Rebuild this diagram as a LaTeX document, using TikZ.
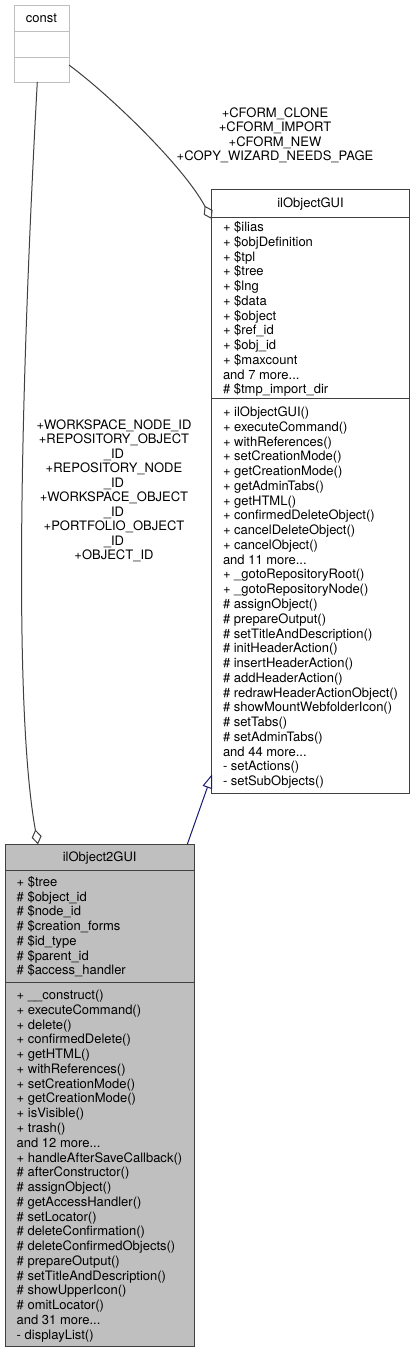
\documentclass[tikz,border=0pt]{standalone}
\usepackage{fontspec}
\setmainfont{TeX Gyre Heros}
\usetikzlibrary{arrows.meta,calc}
\definecolor{edgegray}{HTML}{404040}
\definecolor{boxgray}{HTML}{BFBFBF}
\definecolor{inhblue}{HTML}{191970}
\newcommand\leftlines[1]{\begin{tabular}{@{}l@{}}#1\end{tabular}}
\newcommand\midlines[1]{\begin{tabular}{@{}c@{}}#1\end{tabular}}
\begin{document}
\begin{tikzpicture}[x=1pt,y=-1pt,
  every node/.style={inner sep=0pt,outer sep=0pt},
  umlbox/.style={draw=edgegray,line width=1pt,anchor=north west,minimum width=#1},
  boxline/.style={draw=edgegray,line width=1pt},
  membertext/.style={anchor=north west,font=\fontsize{13}{14.76}\selectfont},
  titletext/.style={anchor=base,font=\fontsize{13}{14.76}\selectfont},
  labeltext/.style={anchor=north,font=\fontsize{13}{14.5}\selectfont},
  aggedge/.style={draw=edgegray,line width=1pt,-{Diamond[open,length=15pt,width=10pt]}},
  inhedge/.style={draw=inhblue,line width=1pt,-{Triangle[open,length=14pt,width=10pt]}}]
\useasboundingbox (0,0) rectangle (415,1352);
\fill[white] (0,0) rectangle (415,1352);

% const
\node[draw=boxgray,line width=1pt,anchor=north west,minimum width=55pt,minimum height=77pt] (const) at (14,5) {};
\draw[boxgray,line width=1pt] (const.west |- 0,31) -- (const.east |- 0,31);
\draw[boxgray,line width=1pt] (const.west |- 0,57) -- (const.east |- 0,57);
\node[titletext] (constT) at (41.5,22.5) {const};

% ilObjectGUI
\node[umlbox=197.6pt,minimum height=604pt,fill=white] (gui) at (211.7,189.3) {};
\draw[boxline] (gui.west |- 0,217.3) -- (gui.east |- 0,217.3);
\draw[boxline] (gui.west |- 0,398.3) -- (gui.east |- 0,398.3);
\node[titletext] (guiT) at (310.5,207.8) {ilObjectGUI};
\node[membertext] (guiA) at (223,221.3) {\leftlines{%
+ \$ilias\\
+ \$objDefinition\\
+ \$tpl\\
+ \$tree\\
+ \$lng\\
+ \$data\\
+ \$object\\
+ \$ref\_id\\
+ \$obj\_id\\
+ \$maxcount\\
and 7 more...\\
\# \$tmp\_import\_dir}};
\node[membertext] (guiM) at (223,406.3) {\leftlines{%
+ ilObjectGUI()\\
+ executeCommand()\\
+ withReferences()\\
+ setCreationMode()\\
+ getCreationMode()\\
+ getAdminTabs()\\
+ getHTML()\\
+ confirmedDeleteObject()\\
+ cancelDeleteObject()\\
+ cancelObject()\\
and 11 more...\\
+ \_gotoRepositoryRoot()\\
+ \_gotoRepositoryNode()\\
\# assignObject()\\
\# prepareOutput()\\
\# setTitleAndDescription()\\
\# initHeaderAction()\\
\# insertHeaderAction()\\
\# addHeaderAction()\\
\# redrawHeaderActionObject()\\
\# showMountWebfolderIcon()\\
\# setTabs()\\
\# setAdminTabs()\\
and 44 more...\\
- setActions()\\
- setSubObjects()}};

% ilObject2GUI
\node[umlbox=189.3pt,minimum height=501.7pt,fill=boxgray] (o2) at (5,844.3) {};
\draw[boxline] (o2.west |- 0,870) -- (o2.east |- 0,870);
\draw[boxline] (o2.west |- 0,982.7) -- (o2.east |- 0,982.7);
\node[titletext] (o2T) at (99.7,861.5) {ilObject2GUI};
\node[membertext] (o2A) at (16.7,876) {\leftlines{%
+ \$tree\\
\# \$object\_id\\
\# \$node\_id\\
\# \$creation\_forms\\
\# \$id\_type\\
\# \$parent\_id\\
\# \$access\_handler}};
\node[membertext] (o2M) at (16.7,989.3) {\leftlines{%
+ \_\_construct()\\
+ executeCommand()\\
+ delete()\\
+ confirmedDelete()\\
+ getHTML()\\
+ withReferences()\\
+ setCreationMode()\\
+ getCreationMode()\\
+ isVisible()\\
+ trash()\\
and 12 more...\\
+ handleAfterSaveCallback()\\
\# afterConstructor()\\
\# assignObject()\\
\# getAccessHandler()\\
\# setLocator()\\
\# deleteConfirmation()\\
\# deleteConfirmedObjects()\\
\# prepareOutput()\\
\# setTitleAndDescription()\\
\# showUpperIcon()\\
\# omitLocator()\\
and 31 more...\\
- displayList()}};

% connectors
\coordinate (constR) at ($(const.south east)+(0,-17)$);
\coordinate (constB) at ($(const.south west)+(23.3,0)$);
\coordinate (guiL) at ($(gui.north west)+(0,29.7)$);
\coordinate (guiLB) at ($(gui.north west)+(0.3,585)$);
\coordinate (o2Tl) at ($(o2.north west)+(33,0)$);
\coordinate (o2Tr) at ($(o2.north west)+(182.3,0)$);

\draw[aggedge] (constR) .. controls (112,97) and (184,167) .. (guiL);
\draw[aggedge] (constB) .. controls (28,250) and (8,680) .. (o2Tl);
\draw[inhedge] (o2Tr) -- (guiLB);

\node[labeltext] (lblTop) at (275,107.3) {\midlines{%
+CFORM\_CLONE\\
+CFORM\_IMPORT\\
+CFORM\_NEW\\
+COPY\_WIZARD\_NEEDS\_PAGE}};
\node[labeltext] (lblLeft) at (114,419.3) {\midlines{%
+WORKSPACE\_NODE\_ID\\
+REPOSITORY\_OBJECT\\
\_ID\\
+REPOSITORY\_NODE\\
\_ID\\
+WORKSPACE\_OBJECT\\
\_ID\\
+PORTFOLIO\_OBJECT\\
\_ID\\
+OBJECT\_ID}};
\end{tikzpicture}
\end{document}
